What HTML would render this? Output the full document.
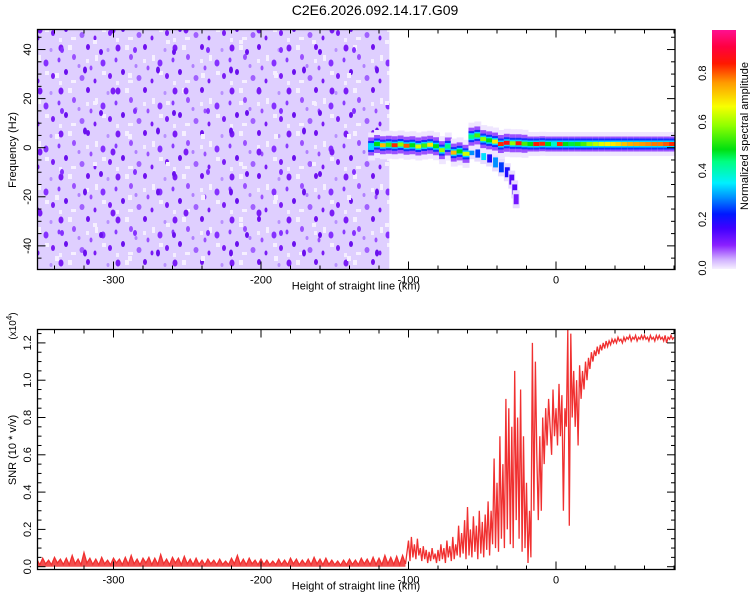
<!DOCTYPE html>
<html><head><meta charset="utf-8"><style>
body{margin:0;background:#fff;}
svg{display:block;font-family:"Liberation Sans",sans-serif;}
</style></head><body>
<svg id="chart" width="750" height="600" viewBox="0 0 750 600">
<defs>
<linearGradient id="cbar" x1="0" y1="1" x2="0" y2="0">
<stop offset="0" stop-color="#f6f0ff"/><stop offset="0.04" stop-color="#d0b0ff"/><stop offset="0.1" stop-color="#8a20ff"/>
<stop offset="0.17" stop-color="#4000ff"/><stop offset="0.23" stop-color="#0018ff"/><stop offset="0.3" stop-color="#0090ff"/>
<stop offset="0.36" stop-color="#00f0ff"/><stop offset="0.45" stop-color="#00ff80"/><stop offset="0.5" stop-color="#00e010"/>
<stop offset="0.6" stop-color="#90ff00"/><stop offset="0.68" stop-color="#f8ff00"/><stop offset="0.78" stop-color="#ff9a00"/>
<stop offset="0.86" stop-color="#ff1800"/><stop offset="0.93" stop-color="#ff0040"/><stop offset="1" stop-color="#ff1090"/>
</linearGradient>
<pattern id="speck" width="57" height="43" patternUnits="userSpaceOnUse">
<rect width="57" height="43" fill="#dfcfff"/>
<ellipse cx="4" cy="5" rx="2.5" ry="3.5" fill="#7a1cf5"/><ellipse cx="17" cy="14" rx="2" ry="3" fill="#9a50ff"/>
<ellipse cx="31" cy="4" rx="2" ry="3" fill="#7010f0"/><ellipse cx="46" cy="20" rx="2.5" ry="3.5" fill="#8530ff"/>
<ellipse cx="9" cy="29" rx="2" ry="3" fill="#6a10ee"/><ellipse cx="25" cy="35" rx="2.5" ry="3" fill="#a060ff"/>
<ellipse cx="38" cy="38" rx="1.5" ry="2.5" fill="#7a1cf5"/><ellipse cx="22" cy="23" rx="1.5" ry="2" fill="#b080ff"/>
<ellipse cx="51" cy="7" rx="1.5" ry="2" fill="#b890ff"/><ellipse cx="2" cy="17" rx="1.5" ry="2.5" fill="#8a3cff"/>
<ellipse cx="53" cy="33" rx="2" ry="3" fill="#7a1cf5"/><ellipse cx="34" cy="25" rx="1.5" ry="2.5" fill="#9a50ff"/>
<rect x="11" y="2" width="4" height="5" fill="#f6f0ff"/><rect x="38" y="12" width="3" height="6" fill="#f6f0ff"/>
<rect x="14" y="37" width="5" height="3" fill="#f6f0ff"/><rect x="29" y="16" width="3" height="4" fill="#f4eeff"/>
<rect x="45" y="28" width="4" height="4" fill="#f6f0ff"/><rect x="2" y="38" width="3" height="4" fill="#f4eeff"/>
</pattern>
<pattern id="speck2" width="73" height="61" patternUnits="userSpaceOnUse">
<ellipse cx="12" cy="9" rx="2" ry="3.5" fill="#6a10ee"/><ellipse cx="40" cy="30" rx="2.5" ry="3.5" fill="#7a1cf5"/>
<ellipse cx="62" cy="50" rx="2" ry="3" fill="#8530ff"/><ellipse cx="28" cy="52" rx="2" ry="3" fill="#6a10ee"/>
<rect x="55" y="12" width="4" height="5" fill="#f6f0ff"/><rect x="20" y="40" width="4" height="4" fill="#f6f0ff"/>
</pattern>
</defs>
<text x="375" y="15" text-anchor="middle" font-size="14">C2E6.2026.092.14.17.G09</text>
<g id="topPanel"></g>
<g id="botPanel"></g>
<g id="cbPanel"></g>
</svg>
<script>
// ---- data ----
const xTicks=[-300,-200,-100,0];
const freqTicks=[40,20,0,-20,-40];
const snrTicks=[0.0,0.2,0.4,0.6,0.8,1.0,1.2];
const cbTicks=[0.0,0.2,0.4,0.6,0.8];
const noiseStartKm=-352, noiseEndKm=-113;
const ridgeKm=[-125,-121,-117,-113,-109,-105,-101,-97,-93,-89,-85,-81,-77,-73,-69,-65,-61,-57,-53,-49,-45,-41,-37,-33,-29,-25,-21,-17,-13,-9,-5,-1,3,7,11,15,19,23,27,31,35,39,43,47,51,55,59,63,67,71,75,79];
const ridgeFreq=[0.5,1.5,1.0,1.2,1.0,1.3,0.8,1.0,0.5,0.9,1.2,0.6,-1.0,0.5,-2.0,-1.5,-2.5,4.5,5.0,3.5,3.0,2.5,1.5,2.0,1.8,1.8,1.6,1.5,1.5,1.6,1.5,1.5,1.5,1.5,1.5,1.5,1.5,1.5,1.5,1.5,1.5,1.5,1.5,1.5,1.5,1.5,1.5,1.5,1.5,1.5,1.5,1.5];
const ridgeAmp=[0.35,0.5,0.75,0.55,0.85,0.6,0.82,0.5,0.65,0.55,0.7,0.5,0.6,0.45,0.75,0.5,0.65,0.45,0.55,0.6,0.5,0.7,0.85,0.88,0.6,0.87,0.55,0.5,0.86,0.85,0.5,0.4,0.85,0.5,0.48,0.52,0.55,0.6,0.63,0.66,0.69,0.7,0.72,0.74,0.76,0.77,0.78,0.79,0.8,0.8,0.82,0.85];
const branchKm=[-57,-53,-49,-45,-41,-37,-33,-30,-28,-27];
const branchFreq=[-1,-2,-3,-4,-6,-8,-10,-13,-17,-21];
const branchAmp=[0.3,0.25,0.35,0.2,0.3,0.25,0.2,0.15,0.15,0.12];
const baselineStartKm=-352, baselineStepKm=2;
const baselineVals=[0.04,0.01,0.045,0.015,0.035,0.01,0.05,0.02,0.04,0.012,0.045,0.01,0.06,0.015,0.04,0.01,0.075,0.02,0.045,0.012,
0.04,0.01,0.05,0.015,0.035,0.01,0.045,0.02,0.04,0.01,0.05,0.012,0.06,0.015,0.04,0.01,0.045,0.02,0.05,0.01,
0.045,0.012,0.065,0.015,0.04,0.01,0.05,0.02,0.045,0.01,0.055,0.015,0.04,0.01,0.045,0.012,0.035,0.01,0.04,0.015,
0.035,0.01,0.04,0.012,0.03,0.01,0.045,0.015,0.06,0.012,0.04,0.01,0.045,0.015,0.035,0.01,0.04,0.012,0.035,0.01,
0.03,0.01,0.04,0.012,0.035,0.01,0.045,0.015,0.04,0.01,0.035,0.012,0.04,0.01,0.05,0.015,0.04,0.01,0.045,0.012,
0.035,0.01,0.03,0.008,0.035,0.01,0.04,0.012,0.035,0.01,0.045,0.015,0.04,0.01,0.05,0.012,0.045,0.01,0.06,0.015,
0.05,0.012,0.055,0.01,0.06,0.015];
const detailStartKm=-100, detailStepKm=1;
const detailVals=[0.14,0.03,0.16,0.05,0.12,0.04,0.15,0.06,0.1,0.03,
0.11,0.04,0.09,0.02,0.08,0.03,0.1,0.04,0.07,0.02,
0.09,0.03,0.12,0.04,0.1,0.02,0.14,0.05,0.11,0.03,
0.16,0.04,0.12,0.06,0.22,0.05,0.18,0.07,0.25,0.04,
0.32,0.06,0.2,0.05,0.27,0.08,0.22,0.04,0.3,0.07,
0.24,0.05,0.28,0.09,0.35,0.06,0.3,0.12,0.58,0.1,
0.45,0.08,0.7,0.15,0.55,0.1,0.9,0.2,0.85,0.12,
0.75,0.1,1.05,0.25,0.8,0.15,0.95,0.08,0.7,0.1,
0.45,0.02,0.3,0.05,1.2,0.3,1.1,0.6,0.25,0.7,
0.3,0.8,0.55,0.85,0.65,0.9,0.75,0.6,0.95,0.7,
0.85,0.65,0.98,0.7,0.92,0.3,0.85,0.75,1.27,0.22,
1.25,0.8,1.05,0.75,1.0,0.65,1.08,0.9,1.05,0.95,
1.1,1.0,1.12,1.06,1.15,1.1,1.16,1.13,1.18,1.14,
1.19,1.16,1.2,1.17,1.21,1.18,1.21,1.19,1.22,1.2,
1.22,1.2,1.23,1.21,1.22,1.2,1.23,1.21,1.23,1.22,
1.24,1.21,1.23,1.22,1.24,1.21,1.23,1.22,1.24,1.22,
1.24,1.22,1.23,1.21,1.24,1.22,1.23,1.21,1.24,1.22,
1.24,1.22,1.23,1.21,1.24,1.2,1.23,1.22,1.24,1.22,1.23];
const cmapPos=[0,0.04,0.1,0.17,0.23,0.3,0.36,0.45,0.5,0.6,0.68,0.78,0.86,0.93,1];
const cmapCol=["#f6f0ff","#d0b0ff","#8a20ff","#4000ff","#0018ff","#0090ff","#00f0ff","#00ff80","#00e010","#90ff00","#f8ff00","#ff9a00","#ff1800","#ff0040","#ff1090"];

// ---- scales ----
const L=37.5,R=675;
const xs=k=>556+k*1.475;
const yF=f=>147.7-f*2.454;
const T1=29.5,B1=269.5,T2=329.5,B2=569.5;
const yS=v=>566.7-v*186.5;
const NS='http://www.w3.org/2000/svg';
function mk(p,tag,a){const e=document.createElementNS(NS,tag);for(const k in a)e.setAttribute(k,a[k]);p.appendChild(e);return e;}
function hex(c){return [1,3,5].map(i=>parseInt(c.substr(i,2),16));}
function cmap(t){for(let i=1;i<cmapPos.length;i++){if(t<=cmapPos[i]){const u=(t-cmapPos[i-1])/(cmapPos[i]-cmapPos[i-1]);const a=hex(cmapCol[i-1]),b=hex(cmapCol[i]);return 'rgb('+a.map((v,j)=>Math.round(v+(b[j]-v)*u)).join(',')+')';}}return cmapCol[cmapCol.length-1];}

const topG=document.getElementById('topPanel'),botG=document.getElementById('botPanel'),cbG=document.getElementById('cbPanel');
const defsEl=document.querySelector('defs');
// spectrogram
const clipT=mk(defsEl,'clipPath',{id:'ct'});mk(clipT,'rect',{x:L,y:T1,width:R-L,height:B1-T1});
const gT=mk(topG,'g',{'clip-path':'url(#ct)'});
const noise=mk(gT,'rect',{x:xs(noiseStartKm),y:T1,width:xs(noiseEndKm)-xs(noiseStartKm),height:B1-T1,fill:'url(#speck)'});


const noise2=mk(gT,'rect',{x:xs(noiseStartKm),y:T1,width:xs(noiseEndKm)-xs(noiseStartKm),height:B1-T1,fill:'url(#speck2)'});


const stepW=4*1.475+1;
branchKm.forEach((k,i)=>{const x=xs(k)-stepW/2,y=yF(branchFreq[i]);
 const r=mk(gT,'rect',{x:x,y:y-9,width:stepW,height:18,fill:'#e8dcff'});
 
 
 const c=mk(gT,'rect',{x:x+1,y:y-5,width:stepW-2,height:10,fill:cmap(branchAmp[i])});
 
 });
ridgeKm.forEach((k,i)=>{const x=xs(k)-stepW/2,y=yF(ridgeFreq[i]);const noisy=k<-20;
 const h0=mk(gT,'rect',{x:x,y:y-(noisy?14:12),width:stepW,height:noisy?28:24,fill:'#efe6ff'});
 
 
 const h1=mk(gT,'rect',{x:x,y:y-(noisy?9:7.5),width:stepW,height:noisy?18:15,fill:'#9a50ff'});
 
 
 const h2=mk(gT,'rect',{x:x,y:y-5.5,width:stepW,height:11,fill:'#1030ff'});
 
 
 const h3=mk(gT,'rect',{x:x,y:y-3.5,width:stepW,height:7,fill:'#00d8ff'});
 
 
 const c=mk(gT,'rect',{x:x,y:y-2,width:stepW,height:4,fill:cmap(ridgeAmp[i])});
 
 });

function axes(g,T,B,yTicksArr,yfun,minorY,yMin,yMax,fmt,ylab,ylabY){
 mk(g,'rect',{x:L,y:T,width:R-L,height:B-T,fill:'none',stroke:'#000','stroke-width':1.3});
 for(let k=-340;k<=80;k+=20){const x=xs(k);if(x<L||x>R)continue;const big=k%100===0;
  mk(g,'line',{x1:x,y1:B,x2:x,y2:B-(big?8:4),stroke:'#000'});mk(g,'line',{x1:x,y1:T,x2:x,y2:T+(big?8:4),stroke:'#000'});}
 xTicks.forEach(k=>{const t=mk(g,'text',{x:xs(k),y:B+14,'text-anchor':'middle','font-size':11});t.textContent=k;
  
  });
 const xt=mk(g,'text',{x:356,y:B+20,'text-anchor':'middle','font-size':11});xt.textContent='Height of straight line (km)';
 
 
 for(let v=yMin;v<=yMax+1e-9;v+=minorY){const y=yfun(v);if(y<T||y>B)continue;
  const big=yTicksArr.some(t=>Math.abs(t-v)<1e-6);
  mk(g,'line',{x1:L,y1:y,x2:L+(big?8:4),y2:y,stroke:'#000'});mk(g,'line',{x1:R,y1:y,x2:R-(big?8:4),y2:y,stroke:'#000'});}
 yTicksArr.forEach(v=>{const y=yfun(v);const t=mk(g,'text',{x:0,y:0,'text-anchor':'middle','font-size':11,transform:`translate(31,${y}) rotate(-90)`});t.textContent=fmt(v);
  
  });
 const yt=mk(g,'text',{x:0,y:0,'text-anchor':'middle','font-size':11,transform:`translate(16,${ylabY}) rotate(-90)`});yt.textContent=ylab;
 
 
}
axes(topG,T1,B1,freqTicks,yF,5,-50,50,v=>v,'Frequency (Hz)',150);

// SNR line
const clipB=mk(defsEl,'clipPath',{id:'cbp'});mk(clipB,'rect',{x:L,y:T2-5,width:R-L,height:B2-T2+5});
let basePts=[];
baselineVals.forEach((v,i)=>basePts.push(xs(baselineStartKm+i*baselineStepKm).toFixed(1)+','+yS(v).toFixed(1)));
const lastBaseX=xs(baselineStartKm+(baselineVals.length-1)*baselineStepKm).toFixed(1);
const baseArea=mk(botG,'polygon',{points:xs(baselineStartKm).toFixed(1)+','+yS(0).toFixed(1)+' '+basePts.join(' ')+' '+lastBaseX+','+yS(0).toFixed(1),fill:'#f03030','fill-opacity':0.85,'clip-path':'url(#cbp)'});


let pts=basePts.slice();
detailVals.forEach((v,i)=>pts.push(xs(detailStartKm+i*detailStepKm).toFixed(1)+','+yS(v).toFixed(1)));
const snrLine=mk(botG,'polyline',{points:pts.join(' '),fill:'none',stroke:'#f03030','stroke-width':1.3,'clip-path':'url(#cbp)'});


axes(botG,T2,B2,snrTicks,yS,0.05,0,1.25,v=>v.toFixed(1),'SNR (10 * v/v)',450);
const ex=mk(botG,'text',{x:0,y:0,'text-anchor':'middle','font-size':10,transform:'translate(16,326) rotate(-90)'});
ex.textContent='(x10';
const sup=mk(ex,'tspan',{dy:-4,'font-size':8});sup.textContent='4';
const cls=mk(ex,'tspan',{dy:4});cls.textContent=')';



// colorbar
const cyv=v=>268-v*243.5;
const bar=mk(cbG,'rect',{x:712,y:30,width:24,height:239,fill:'url(#cbar)'});


cbTicks.forEach(v=>{const t=mk(cbG,'text',{x:0,y:0,'text-anchor':'middle','font-size':11,transform:`translate(706,${cyv(v)}) rotate(-90)`});t.textContent=v.toFixed(1);
 
 });
const cl=mk(cbG,'text',{x:0,y:0,'text-anchor':'middle','font-size':11,transform:'translate(748,136) rotate(-90)'});cl.textContent='Normalized spectral amplitude';


</script>
</body></html>
